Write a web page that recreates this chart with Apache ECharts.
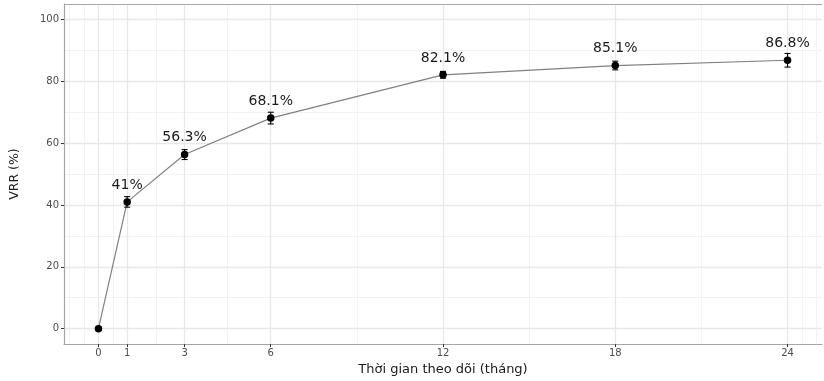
<!DOCTYPE html>
<html><head><meta charset="utf-8">
<script src="https://cdn.jsdelivr.net/npm/echarts@6/dist/echarts.min.js"></script>
<style>html,body{margin:0;padding:0;background:#fff}#c{width:824px;height:381px}</style>
</head><body><div id="c"></div>
<script>
const months = [0, 1, 3, 6, 12, 18, 24];
const vrr = [0, 41, 56.3, 68.1, 82.1, 85.1, 86.8];
const vrrErr = [0, 1.7, 1.6, 1.9, 1.1, 1.4, 2.2];
const pointLabels = ['', '41%', '56.3%', '68.1%', '82.1%', '85.1%', '86.8%'];
const xTicks = [0, 1, 3, 6, 12, 18, 24];
const xMinorGrid = [-1, -0.5, 0.5, 2, 4.5, 9, 15, 21, 24.5, 25];
const yTicks = [0, 20, 40, 60, 80, 100];
const yMinorGrid = [10, 30, 50, 70, 90];

const FONT = 'DejaVu Sans';
const majorStyle = { color: '#e8e8e8', width: 1.3, type: 'solid' };
const minorStyle = { color: '#f2f2f2', width: 1, type: 'solid' };

const gridLines = [];
xMinorGrid.forEach(v => gridLines.push({ xAxis: v, lineStyle: minorStyle }));
yMinorGrid.forEach(v => gridLines.push({ yAxis: v, lineStyle: minorStyle }));
xTicks.forEach(v => gridLines.push({ xAxis: v, lineStyle: majorStyle }));
yTicks.forEach(v => gridLines.push({ yAxis: v, lineStyle: majorStyle }));
gridLines.push({ yAxis: 105, lineStyle: { color: '#a6a6a6', width: 1.2, type: 'solid' } });

const pts = months.map((m, i) => [m, vrr[i]]);
const errData = months.map((m, i) => [m, vrr[i], vrrErr[i]]);

const chart = echarts.init(document.getElementById('c'), null, { renderer: 'canvas' });
chart.setOption({
  animation: false,
  backgroundColor: '#fff',
  textStyle: { fontFamily: FONT },
  grid: { left: 64, top: 4, width: 758, height: 342, containLabel: false },
  xAxis: {
    type: 'value', min: -1.2, max: 25.2,
    name: 'Thời gian theo dõi (tháng)', nameLocation: 'middle', nameGap: 14,
    nameTextStyle: { fontFamily: FONT, fontSize: 13, color: '#1a1a1a' },
    axisLine: { show: true, onZero: false, lineStyle: { color: '#a6a6a6', width: 1.2 } },
    axisTick: { show: true, customValues: xTicks, length: 3, lineStyle: { color: '#333', width: 1 } },
    axisLabel: { customValues: xTicks, fontFamily: FONT, fontSize: 10, color: '#4d4d4d', margin: 4 },
    splitLine: { show: false }
  },
  yAxis: {
    type: 'value', min: -5, max: 105,
    name: 'VRR (%)', nameLocation: 'middle', nameGap: 43, nameRotate: 90,
    nameTextStyle: { fontFamily: FONT, fontSize: 12.5, color: '#1a1a1a' },
    axisLine: { show: true, onZero: false, lineStyle: { color: '#a6a6a6', width: 1.2 } },
    axisTick: { show: true, customValues: yTicks, length: 3, lineStyle: { color: '#333', width: 1 } },
    axisLabel: { customValues: yTicks, fontFamily: FONT, fontSize: 10, color: '#4d4d4d', margin: 5 },
    splitLine: { show: false }
  },
  series: [
    {
      type: 'line', data: [], z: 0, silent: true,
      markLine: { silent: true, z: 0, symbol: 'none', label: { show: false }, animation: false, data: gridLines }
    },
    {
      type: 'line', data: pts, z: 2, symbol: 'none',
      lineStyle: { color: '#808080', width: 1.2 }
    },
    {
      type: 'custom', z: 3, data: errData,
      renderItem: function (params, api) {
        const x = api.value(0), y = api.value(1), e = api.value(2);
        if (!e) return { type: 'group', children: [] };
        const t = api.coord([x, y + e]), b = api.coord([x, y - e]);
        const w = 3;
        const st = { stroke: '#000', lineWidth: 1.1 };
        return {
          type: 'group', children: [
            { type: 'line', shape: { x1: t[0], y1: t[1], x2: b[0], y2: b[1] }, style: st },
            { type: 'line', shape: { x1: t[0] - w, y1: t[1], x2: t[0] + w, y2: t[1] }, style: st },
            { type: 'line', shape: { x1: b[0] - w, y1: b[1], x2: b[0] + w, y2: b[1] }, style: st }
          ]
        };
      }
    },
    {
      type: 'scatter', data: pts, z: 4, symbol: 'circle', symbolSize: 7.5,
      itemStyle: { color: '#000', opacity: 1 },
      label: {
        show: true, position: 'top', distance: 6,
        formatter: p => pointLabels[p.dataIndex],
        fontFamily: FONT, fontSize: 14, color: '#1a1a1a'
      }
    }
  ]
});
</script></body></html>
